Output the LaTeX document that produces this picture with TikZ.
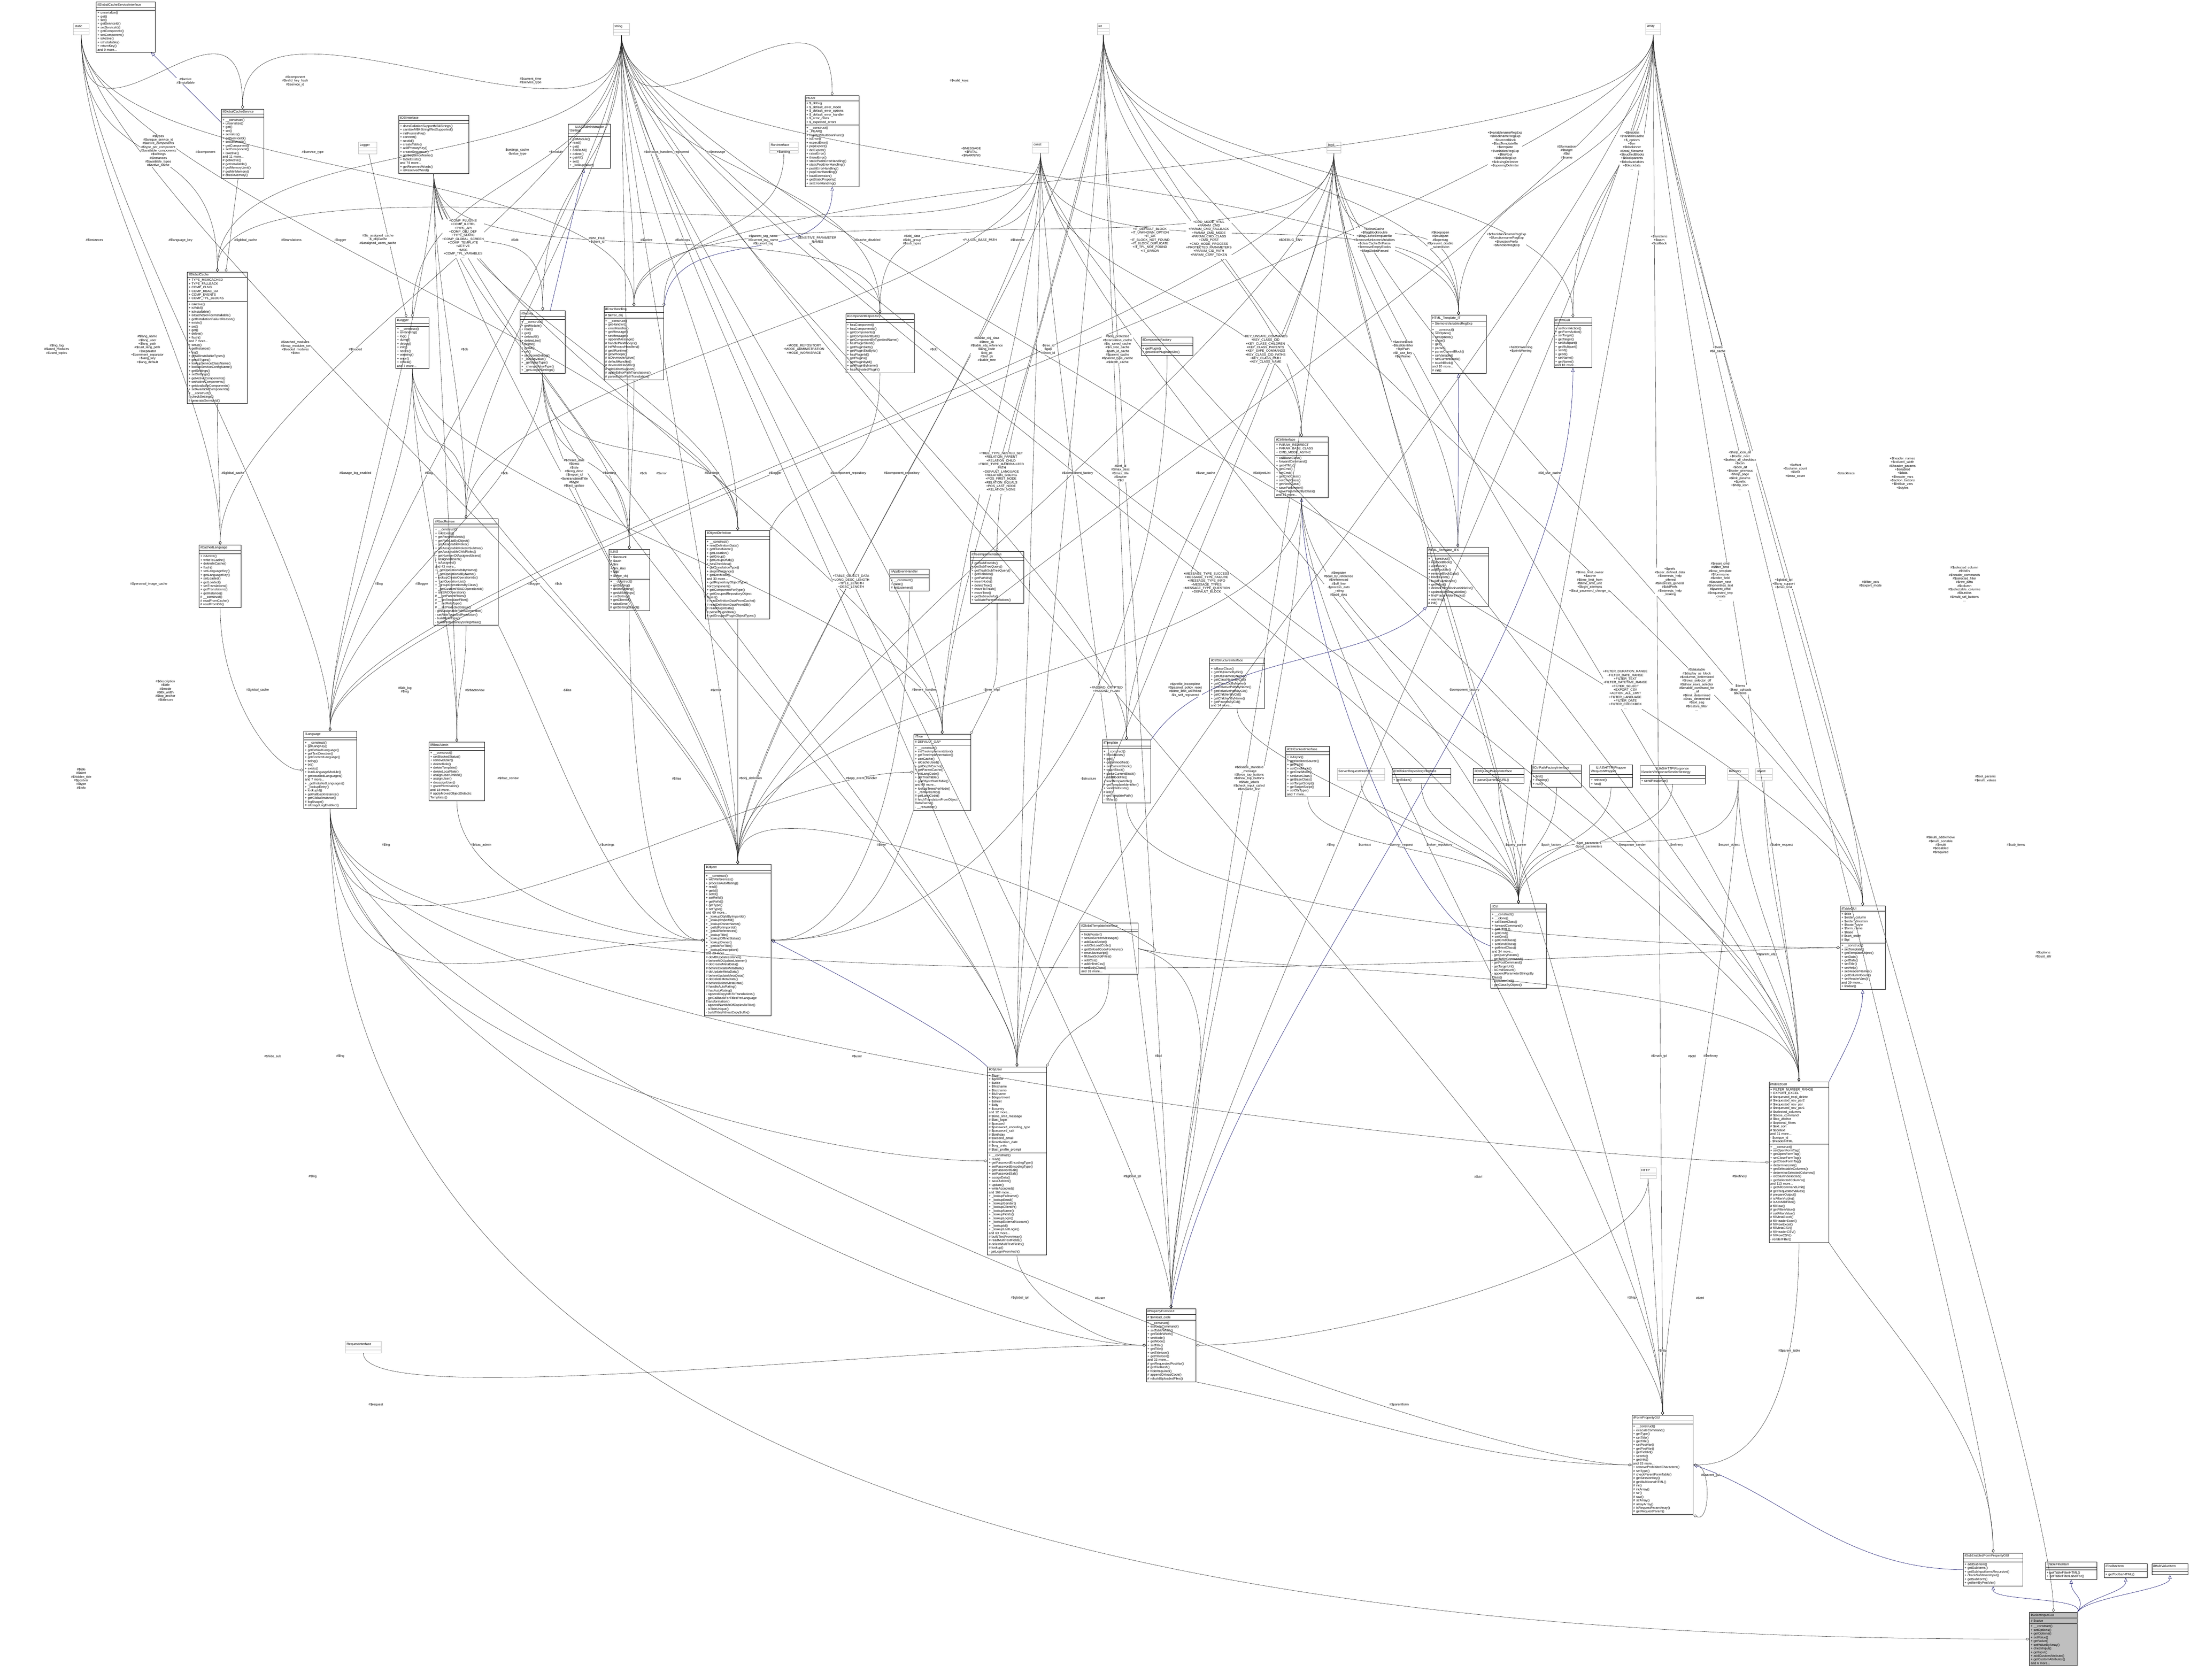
\documentclass[tikz,border=0pt]{standalone}
\usepackage{fontspec}
\setmainfont{Liberation Sans}
\usetikzlibrary{arrows.meta,positioning,shapes.multipart}
\definecolor{dxnavy}{RGB}{25,25,112}
\definecolor{dxgrey}{RGB}{191,191,191}
\definecolor{dxfocus}{RGB}{191,191,191}
\newcommand{\umlbox}[8][umlclass]{%
  \node[#1, text width=#5cm] (#2) at (#3,#4) {\centering #6\nodepart{two}#7\nodepart{three}#8};}
\tikzset{
  umlclass/.style={rectangle split, rectangle split parts=3, draw=black, line width=0.35pt,
    font=\fontsize{3.1}{3.55}\selectfont, align=left, inner sep=1.2pt, anchor=north west, fill=white},
  umltype/.style={umlclass, draw=dxgrey},
  umlfocus/.style={umlclass, fill=dxfocus},
  agg/.style={draw=black!85, line width=0.25pt, -{Diamond[open,length=1.3mm,width=0.9mm]}},
  inherit/.style={draw=dxnavy, line width=0.3pt, -{Triangle[open,length=1.3mm,width=1.1mm]}},
  lbl/.style={font=\fontsize{3.1}{3.5}\selectfont, align=center, inner sep=0pt, fill=white}
}
\begin{document}
\begin{tikzpicture}
\useasboundingbox (0,0) rectangle (73.84,-56.64);
% type boxes
\umlbox[umltype]{static}{2.47}{-0.79}{0.44}{static}{\mbox{}}{\mbox{}}
\umlbox[umltype]{string}{20.67}{-0.79}{0.47}{string}{\mbox{}}{\mbox{}}
\umlbox[umltype]{int}{36.99}{-0.79}{0.32}{int}{\mbox{}}{\mbox{}}
\umlbox[umltype]{array}{55.49}{-0.79}{0.41}{array}{\mbox{}}{\mbox{}}
\umlbox[umltype]{const}{34.80}{-4.79}{0.47}{const}{\mbox{}}{\mbox{}}
\umlbox[umltype]{bool}{44.73}{-4.79}{0.39}{bool}{\mbox{}}{\mbox{}}
\umlbox[umltype]{Logger}{12.08}{-4.79}{0.53}{Logger}{\mbox{}}{\mbox{}}
\umlbox[umltype]{RunInterface}{25.94}{-4.79}{0.88}{RunInterface}{\mbox{}}{\mbox{}}
\umlbox[umltype]{ServerRequestInterface}{45.08}{-25.91}{1.51}{ServerRequestInterface}{\mbox{}}{\mbox{}}
\umlbox[umltype]{Refinery}{58.25}{-25.91}{0.61}{Refinery}{\mbox{}}{\mbox{}}
\umlbox[umltype]{object}{59.19}{-25.91}{0.48}{object}{\mbox{}}{\mbox{}}
\umlbox[umltype]{HTTP}{55.29}{-39.37}{0.46}{HTTP}{\mbox{}}{\mbox{}}
\umlbox[umltype]{RequestInterface}{11.64}{-45.22}{1.12}{RequestInterface}{\mbox{}}{\mbox{}}
% classes
\umlbox{GCSInterface}{3.24}{-0.06}{1.90}{ilGlobalCacheServiceInterface}{\mbox{}}{+ unserialize()\\+ get()\\+ set()\\+ getServiceId()\\+ setServiceId()\\+ getComponent()\\+ setComponent()\\+ isActive()\\+ isInstallable()\\+ returnKey()\\and 9 more...}
\umlbox{GCService}{7.46}{-3.67}{1.34}{ilGlobalCacheService}{\mbox{}}{+ \_\_construct()\\+ unserialize()\\+ get()\\+ set()\\+ serialize()\\+ getServiceId()\\+ setServiceId()\\+ getComponent()\\+ setComponent()\\+ isActive()\\and 11 more...\\\# getActive()\\\# getInstallable()\\\# getMemoryLimit()\\\# getMinMemory()\\\# checkMemory()}
\umlbox{DBInterface}{13.44}{-3.88}{2.27}{ilDBInterface}{\mbox{}}{+ doesCollationSupportMB4Strings()\\+ sanitizeMB4StringIfNotSupported()\\+ initFromIniFile()\\+ connect()\\+ nextId()\\+ createTable()\\+ addPrimaryKey()\\+ createSequence()\\+ getSequenceName()\\+ tableExists()\\and 74 more...\\+ getReservedWords()\\+ isReservedWord()}
\umlbox{AdmSetting}{19.16}{-4.18}{1.33}{ILIAS\textbackslash Administration\\\textbackslash Setting}{\mbox{}}{+ getModule()\\+ read()\\+ get()\\+ deleteAll()\\+ delete()\\+ getAll()\\+ set()\\+ \_lookupValue()}
\umlbox{PEAR}{27.14}{-3.22}{1.74}{PEAR}{+ \$\_debug\\+ \$\_default\_error\_mode\\+ \$\_default\_error\_options\\+ \$\_default\_error\_handler\\+ \$\_error\_class\\+ \$\_expected\_errors}{+ \_\_construct()\\+ \_PEAR()\\+ registerShutdownFunc()\\+ isError()\\+ expectError()\\+ popExpect()\\+ delExpect()\\+ raiseError()\\+ throwError()\\+ staticPushErrorHandling()\\+ staticPopErrorHandling()\\+ pushErrorHandling()\\+ popErrorHandling()\\+ loadExtension()\\+ getStaticProperty()\\+ setErrorHandling()}
\umlbox{GlobalCache}{6.31}{-9.17}{1.94}{ilGlobalCache}{+ TYPE\_MEMCACHED\\+ TYPE\_FALLBACK\\+ COMP\_CLNG\\+ COMP\_RBAC\_UA\\+ COMP\_EVENTS\\+ COMP\_TPL\_BLOCKS}{+ isActive()\\+ isValid()\\+ isInstallable()\\+ isCacheServiceInstallable()\\+ getInstallationFailureReason()\\+ exists()\\+ set()\\+ get()\\+ delete()\\+ flush()\\and 7 more...\\+ setup()\\+ getInstance()\\+ log()\\+ getAllInstallableTypes()\\+ getAllTypes()\\+ lookupServiceClassName()\\+ lookupServiceConfigName()\\+ getSettings()\\+ setSettings()\\+ getActiveComponents()\\+ setActiveComponents()\\+ getAvailableComponents()\\+ setAvailableComponents()\\\# \_\_construct()\\\# checkSettings()\\\# generateServiceId()}
\umlbox{ilLogger}{13.34}{-10.70}{1.03}{ilLogger}{\mbox{}}{+ \_\_construct()\\+ isHandling()\\+ log()\\+ dump()\\+ debug()\\+ info()\\+ notice()\\+ warning()\\+ error()\\+ critical()\\and 7 more...}
\umlbox{ilSetting}{17.53}{-10.47}{1.44}{ilSetting}{\mbox{}}{+ \_\_construct()\\+ getModule()\\+ read()\\+ get()\\+ deleteAll()\\+ deleteLike()\\+ delete()\\+ getAll()\\+ set()\\+ setScormDebug()\\+ \_lookupValue()\\+ \_getValueType()\\+ \_changeValueType()\\+ \_getLongerSettings()}
\umlbox{ErrorHandling}{20.36}{-10.33}{1.93}{ilErrorHandling}{\# \$error\_obj}{+ \_\_construct()\\+ getHandler()\\+ errorHandler()\\+ getMessage()\\+ setMessage()\\+ appendMessage()\\\# handlePreWhoops()\\\# initWhoopsHandlers()\\\# getIlRuntime()\\\# getWhoops()\\\# isDevmodeActive()\\\# defaultHandler()\\\# devmodeHandler()\\\# addEditorSupport()\\\# applyEditorPathTranslations()\\\# parseEditorPathTranslation()}
\umlbox{ComponentRepository}{28.51}{-10.57}{2.22}{ilComponentRepository}{\mbox{}}{+ hasComponent()\\+ hasComponentId()\\+ getComponents()\\+ getComponentById()\\+ getComponentByTypeAndName()\\+ hasPluginSlotId()\\+ getPluginSlots()\\+ getPluginSlotById()\\+ hasPluginId()\\+ getPlugins()\\+ getPluginById()\\+ getPluginByName()\\+ hasActivatedPlugin()}
\umlbox{ComponentFactory}{38.47}{-11.36}{1.66}{ilComponentFactory}{\mbox{}}{+ getPlugin()\\+ getActivePluginsInSlot()}
\umlbox{CtrlInterface}{42.98}{-14.73}{1.71}{ilCtrlInterface}{+ PARAM\_REDIRECT\\+ PARAM\_BASE\_CLASS\\+ CMD\_MODE\_ASYNC}{+ callBaseClass()\\+ forwardCommand()\\+ getHTML()\\+ getCmd()\\+ setCmd()\\+ getCmdClass()\\+ setCmdClass()\\+ getNextClass()\\+ saveParameter()\\+ saveParameterByClass()\\and 32 more...}
\umlbox{TemplateIT}{48.24}{-10.62}{1.78}{HTML\_Template\_IT}{+ \$removeVariablesRegExp}{+ \_\_construct()\\+ setOption()\\+ setOptions()\\+ show()\\+ get()\\+ parse()\\+ parseCurrentBlock()\\+ setVariable()\\+ setCurrentBlock()\\+ touchBlock()\\and 10 more...\\\# init()}
\umlbox{FormGUI}{52.39}{-10.70}{1.19}{ilFormGUI}{\mbox{}}{+ setFormAction()\\+ getFormAction()\\+ setTarget()\\+ getTarget()\\+ setMultipart()\\+ getMultipart()\\+ setId()\\+ getId()\\+ setName()\\+ getName()\\and 10 more...}
\umlbox{GlobalCachedLanguage}{6.71}{-18.37}{1.33}{ilCachedLanguage}{\mbox{}}{+ isActive()\\+ writeToCache()\\+ deleteInCache()\\+ flush()\\+ setLanguageKey()\\+ getLanguageKey()\\+ setLoaded()\\+ getLoaded()\\+ setTranslations()\\+ getTranslations()\\+ getInstance()\\\# \_\_construct()\\\# readFromCache()\\\# readFromDB()}
\umlbox{RbacReview}{14.62}{-17.49}{2.09}{ilRbacReview}{\mbox{}}{+ \_\_construct()\\+ roleExists()\\+ getParentRoleIds()\\+ getRoleListByObject()\\+ getAssignableRoles()\\+ getAssignableRolesInSubtree()\\+ getAssignableChildRoles()\\+ getNumberOfAssignedUsers()\\+ assignedUsers()\\+ isAssigned()\\and 43 more...\\+ \_getOperationIdsByName()\\+ \_getOperationIdByName()\\+ lookupCreateOperationIds()\\+ \_getOperationList()\\+ \_groupOperationsByClass()\\+ \_getCustomRBACOperationId()\\+ isRBACOperation()\\\# \_\_getParentRoles()\\\# \_\_setTemplateFilter()\\\# \_\_setRoleType()\\\# \_\_setProtectedStatus()\\- getAssignableRolesGenerator()\\- setRoleTypeAndProtection()\\- buildRoleType()\\- buildProtectionByStringValue()}
\umlbox{ILIAS}{20.53}{-18.52}{1.28}{ILIAS}{+ \$account\\+ \$auth\\+ \$ini\\+ \$ini\_ilias\\+ \$db\\+ \$error\_obj}{+ \_\_construct()\\+ getSetting()\\+ deleteSetting()\\+ getAllSettings()\\+ setSetting()\\+ getClientId()\\+ raiseError()\\\# getSettingObject()}
\umlbox{ObjDefinition}{23.78}{-17.88}{2.09}{ilObjectDefinition}{\mbox{}}{+ \_\_construct()\\+ readDefinitionData()\\+ getClassName()\\+ getLocation()\\+ getGroup()\\+ getGroupOfObj()\\+ hasCheckbox()\\+ getTranslationType()\\+ stopInheritance()\\+ getDevMode()\\and 30 more...\\+ getRepositoryObjectTypes\\ForComponent()\\+ getComponentForType()\\+ getGroupedRepositoryObject\\Types()\\\# readDefinitionDataFromCache()\\\# readDefinitionDataFromDB()\\\# readPluginData()\\\# parsePluginData()\\\# getGroupedPluginObjectTypes()}
\umlbox{TreeImpl}{32.71}{-18.60}{1.72}{ilTreeImplementation}{\mbox{}}{+ getSubTreeIds()\\+ getSubTreeQuery()\\+ getTrashSubTreeQuery()\\+ getRelation()\\+ getPathIds()\\+ insertNode()\\+ deleteTree()\\+ moveToTrash()\\+ moveTree()\\+ getSubtreeInfo()\\+ validateParentRelations()}
\umlbox{AppEventHandler}{29.99}{-19.18}{1.25}{ilAppEventHandler}{\mbox{}}{+ \_\_construct()\\+ raise()\\\# initListeners()}
\umlbox{TemplateITX}{48.11}{-18.45}{1.99}{HTML\_Template\_ITX}{\mbox{}}{+ \_\_construct()\\+ replaceBlock()\\+ addBlock()\\+ addBlockfile()\\+ removeBlockData()\\+ blockExists()\\+ buildFunctionlist()\\+ getValue()\\+ deleteFromBlockvariablelist()\\+ updateBlockvariablelist()\\+ findPlaceholderBlocks()\\+ warning()\\\# init()}
\umlbox{CtrlStructure}{40.78}{-22.18}{1.77}{ilCtrlStructureInterface}{\mbox{}}{+ isBaseClass()\\+ getObjNameByCid()\\+ getObjNameByName()\\+ getClassNameByCid()\\+ getClassCidByName()\\+ getRelativePathByName()\\+ getRelativePathByCid()\\+ getChildrenByCid()\\+ getChildrenByName()\\+ getParentsByCid()\\and 14 more...}
\umlbox{Language}{10.23}{-24.65}{1.70}{ilLanguage}{\mbox{}}{+ \_\_construct()\\+ getLangKey()\\+ getDefaultLanguage()\\+ getTextDirection()\\+ getContentLanguage()\\+ txtlng()\\+ txt()\\+ exists()\\+ loadLanguageModule()\\+ getInstalledLanguages()\\and 7 more...\\+ \_getInstalledLanguages()\\+ \_lookupEntry()\\+ lookupId()\\+ getFallbackInstance()\\+ getGlobalInstance()\\\# logUsage()\\\# isUsageLogEnabled()}
\umlbox{RbacAdmin}{14.46}{-25.02}{1.79}{ilRbacAdmin}{\mbox{}}{+ \_\_construct()\\+ setBlockedStatus()\\+ removeUser()\\+ deleteRole()\\+ deleteTemplate()\\+ deleteLocalRole()\\+ assignUserLimited()\\+ assignUser()\\+ deassignUser()\\+ grantPermission()\\and 18 more...\\\# applyMovedObjectDidactic\\Templates()}
\umlbox{Tree}{30.80}{-24.75}{1.84}{ilTree}{\# DEFAULT\_GAP}{+ \_\_construct()\\+ initTreeImplementation()\\+ getTreeImplementation()\\+ useCache()\\+ isCacheUsed()\\+ getDepthCache()\\+ getParentCache()\\+ initLangCode()\\+ getTreeTable()\\+ getObjectDataTable()\\and 69 more...\\+ lookupTreesForNode()\\+ \_removeEntry()\\\# getLangCode()\\\# fetchTranslationFromObject\\DataCache()\\- \_\_renumber()}
\umlbox{Template}{37.16}{-24.95}{1.55}{ilTemplate}{\mbox{}}{+ \_\_construct()\\+ blockExists()\\+ get()\\+ getUnmodified()\\+ setCurrentBlock()\\+ touchBlock()\\+ parseCurrentBlock()\\+ addBlockFile()\\+ loadTemplatefile()\\+ getTemplateIdentifier()\\+ variableExists()\\\# init()\\\# getTemplatePath()\\- fillVars()}
\umlbox{CtrlContext}{43.35}{-25.17}{1.39}{ilCtrlContextInterface}{\mbox{}}{+ isAsync()\\+ getRedirectSource()\\+ getPath()\\+ setCmdMode()\\+ getCmdMode()\\+ setBaseClass()\\+ getBaseClass()\\+ setTargetScript()\\+ getTargetScript()\\+ setObjType()\\and 7 more...}
\umlbox{CtrlToken}{46.93}{-25.91}{1.89}{ilCtrlTokenRepositoryInterface}{\mbox{}}{+ getToken()}
\umlbox{CtrlQueryParser}{49.67}{-25.91}{1.62}{ilCtrlQueryParserInterface}{\mbox{}}{+ parseQueriesOfURL()}
\umlbox{CtrlPathFactory}{51.63}{-25.79}{1.60}{ilCtrlPathFactoryInterface}{\mbox{}}{+ find()\\+ existing()\\+ null()}
\umlbox{RequestWrapper}{53.59}{-25.79}{1.36}{ILIAS\textbackslash HTTP\textbackslash Wrapper\\\textbackslash RequestWrapper}{\mbox{}}{+ retrieve()\\+ has()}
\umlbox{ResponseSender}{55.29}{-25.82}{2.11}{ILIAS\textbackslash HTTP\textbackslash Response\\\textbackslash Sender\textbackslash ResponseSenderStrategy}{\mbox{}}{+ sendResponse()}
\umlbox{Object}{23.75}{-29.14}{2.15}{ilObject}{\mbox{}}{+ \_\_construct()\\+ withReferences()\\+ processAutoRating()\\+ read()\\+ getId()\\+ setId()\\+ setRefId()\\+ getRefId()\\+ getType()\\+ setType()\\and 69 more...\\+ \_lookupObjIdByImportId()\\+ \_lookupImportId()\\+ \_lookupOwnerName()\\+ \_getIdForImportId()\\+ \_getAllReferences()\\+ \_lookupTitle()\\+ \_lookupOfflineStatus()\\+ \_lookupOwner()\\+ \_getIdsForTitle()\\+ \_lookupDescription()\\and 29 more...\\\# doMDUpdateListener()\\\# beforeMDUpdateListener()\\\# doCreateMetaData()\\\# beforeCreateMetaData()\\\# doUpdateMetaData()\\\# beforeUpdateMetaData()\\\# doDeleteMetaData()\\\# beforeDeleteMetaData()\\\# handleAutoRating()\\\# hasAutoRating()\\- appendCopyInfoToTranslations()\\- getCallbackForTitlesPerLanguage\\Transformation()\\- appendNumberOfCopiesToTitle()\\- isTitleUnique()\\- buildTitleWithoutCopySuffix()}
\umlbox{GlobalTplInterface}{36.41}{-31.12}{1.87}{ilGlobalTemplateInterface}{\mbox{}}{+ hideFooter()\\+ setOnScreenMessage()\\+ addJavaScript()\\+ addOnLoadCode()\\+ getOnloadCodeForAsync()\\+ resetJavascript()\\+ fillJavaScriptFiles()\\+ addCss()\\+ addInlineCss()\\+ setBodyClass()\\and 33 more...}
\umlbox{Ctrl}{50.25}{-30.47}{1.80}{ilCtrl}{\mbox{}}{+ \_\_construct()\\+ \_\_clone()\\+ callBaseClass()\\+ forwardCommand()\\+ getHTML()\\+ getCmd()\\+ setCmd()\\+ getCmdClass()\\+ setCmdClass()\\+ getNextClass()\\and 34 more...\\- getQueryParam()\\- getTableCommand()\\- getPostCommand()\\- getTargetUrl()\\- isCmdSecure()\\- appendParameterStringsBy\\Class()\\- populateCall()\\- getClassByObject()}
\umlbox{TableGUI}{62.04}{-30.54}{1.43}{ilTableGUI}{+ \$title\\+ \$order\_column\\+ \$order\_direction\\+ \$footer\_style\\+ \$form\_name\\+ \$base\\\# \$sort\_order\\\# \$tpl}{+ \_\_construct()\\+ setTemplate()\\+ getTemplateObject()\\+ setData()\\+ getData()\\+ setTitle()\\+ setHelp()\\+ setHeaderNames()\\+ getColumnCount()\\+ setHeaderVars()\\and 29 more...\\+ linkbar()}
\umlbox{ObjUser}{33.29}{-35.97}{1.90}{ilObjUser}{+ \$login\\+ \$gender\\+ \$utitle\\+ \$firstname\\+ \$lastname\\+ \$fullname\\+ \$department\\+ \$street\\+ \$city\\+ \$country\\and 12 more...\\\# \$time\_limit\_message\\\# \$last\_login\\\# \$passwd\\\# \$password\_encoding\_type\\\# \$password\_salt\\\# \$birthday\\\# \$second\_email\\\# \$inactivation\_date\\\# \$org\_units\\\# \$last\_profile\_prompt}{+ \_\_construct()\\+ read()\\+ getPasswordEncodingType()\\+ setPasswordEncodingType()\\+ getPasswordSalt()\\+ setPasswordSalt()\\+ assignData()\\+ saveAsNew()\\+ update()\\+ writeAccepted()\\and 168 more...\\+ \_lookupFullname()\\+ \_lookupEmail()\\+ \_lookupGender()\\+ \_lookupClientIP()\\+ \_lookupName()\\+ \_lookupFields()\\+ \_lookupLogin()\\+ \_lookupExternalAccount()\\+ \_lookupId()\\+ \_lookupLastLogin()\\and 63 more...\\\# buildTextFromArray()\\\# readMultiTextFields()\\\# deleteMultiTextFields()\\\# lookup()\\- getLoginFromAuth()}
\umlbox{Table2GUI}{59.64}{-36.47}{1.93}{ilTable2GUI}{+ FILTER\_NUMBER\_RANGE\\+ EXPORT\_EXCEL\\\# \$requested\_tmpl\_delete\\\# \$requested\_nav\_par2\\\# \$requested\_nav\_par\\\# \$requested\_nav\_par1\\\# \$selected\_columns\\\# \$close\_command\\\# \$top\_anchor\\\# \$optional\_filters\\\# \$ext\_sort\\\# \$context\\and 31 more...\\- \$unique\_id\\- \$headerHTML}{+ \_\_construct()\\+ setOpenFormTag()\\+ getOpenFormTag()\\+ setCloseFormTag()\\+ getCloseFormTag()\\+ determineLimit()\\+ getSelectableColumns()\\+ determineSelectedColumns()\\+ isColumnSelected()\\+ getSelectedColumns()\\and 113 more...\\+ getAllCommandLimit()\\\# getRequestedValues()\\\# prepareOutput()\\\# isFilterVisible()\\\# isAdvMDFilter()\\\# fillRow()\\\# getFilterValue()\\\# setFilterValue()\\\# fillMetaExcel()\\\# fillHeaderExcel()\\\# fillRowExcel()\\\# fillMetaCSV()\\\# fillHeaderCSV()\\\# fillRowCSV()\\- renderFilter()}
\umlbox{PropertyFormGUI}{38.64}{-44.12}{1.59}{ilPropertyFormGUI}{\# \$onload\_code}{+ \_\_construct()\\+ executeCommand()\\+ setTableWidth()\\+ getTableWidth()\\+ setMode()\\+ getMode()\\+ setTitle()\\+ getTitle()\\+ setTitleIcon()\\+ getTitleIcon()\\and 33 more...\\\# getRequestedPostVar()\\\# getFileHash()\\\# hideRequired()\\\# appendOnloadCode()\\\# rebuildUploadedFiles()}
\umlbox{FormPropertyGUI}{55.02}{-47.71}{1.98}{ilFormPropertyGUI}{\mbox{}}{+ \_\_construct()\\+ executeCommand()\\+ getType()\\+ setTitle()\\+ getTitle()\\+ setPostVar()\\+ getPostVar()\\+ getFieldId()\\+ setInfo()\\+ getInfo()\\and 33 more...\\+ removeProhibitedCharacters()\\\# setType()\\\# checkParentFormTable()\\\# getSessionKey()\\\# getMultiIconsHTML()\\\# int()\\\# intArray()\\\# str()\\\# raw()\\\# strArray()\\\# arrayArray()\\\# isRequestParamArray()\\\# getRequestParam()}
\umlbox{SubEnabledGUI}{66.19}{-52.36}{1.93}{ilSubEnabledFormPropertyGUI}{\mbox{}}{+ addSubItem()\\+ getSubItems()\\+ getSubInputItemsRecursive()\\+ checkSubItemsInput()\\+ getSubForm()\\+ getItemByPostVar()}
\umlbox{TableFilterItem}{68.96}{-52.66}{1.65}{ilTableFilterItem}{\mbox{}}{+ getTableFilterHTML()\\+ getTableFilterLabelFor()}
\umlbox{ToolbarItem}{70.94}{-52.72}{1.37}{ilToolbarItem}{\mbox{}}{+ getToolbarHTML()}
\umlbox{MultiValueItem}{72.55}{-52.72}{1.13}{ilMultiValueItem}{\mbox{}}{\mbox{}}
\umlbox[umlfocus]{SelectInputGUI}{68.42}{-54.36}{1.53}{ilSelectInputGUI}{\# \$value}{+ \_\_construct()\\+ setOptions()\\+ getOptions()\\+ setValue()\\+ getValue()\\+ setValueByArray()\\+ checkInput()\\+ getInput()\\+ addCustomAttribute()\\+ getCustomAttributes()\\and 6 more...}
% inheritance
\draw[inherit] (GCService) -- (GCSInterface);
\draw[inherit] (ilSetting) -- (AdmSetting);
\draw[inherit] (ErrorHandling.north east) .. controls +(0.3,3) and +(0,-3) .. (PEAR.south);
\draw[inherit] (TemplateITX) -- (TemplateIT);
\draw[inherit] (Template.north east) .. controls +(2,3) and +(-2,-2) .. (TemplateITX.south west);
\draw[inherit] (Ctrl.west) .. controls +(-3,1) and +(0,-4) .. (CtrlInterface.south);
\draw[inherit] (Table2GUI.north east) .. controls +(0.5,1) and +(0,-1) .. (TableGUI.south);
\draw[inherit] (PropertyFormGUI.north) .. controls +(2,10) and +(0,-10) .. (FormGUI.south);
\draw[inherit] (ObjUser.north west) .. controls +(-1,1) and +(2,-1) .. (Object.east);
\draw[inherit] (SubEnabledGUI.west) .. controls +(-4,0) and +(3,-1) .. (FormPropertyGUI.east);
\foreach \p in {SubEnabledGUI, TableFilterItem, ToolbarItem, MultiValueItem}
  \draw[inherit] (SelectInputGUI.north east) .. controls +(0.3,0.5) and +(0,-0.5) .. (\p.south);
% usage from basic types
\foreach \c in {GCService, GlobalCache, ilLogger, ilSetting, ErrorHandling, GlobalCachedLanguage, Language, ObjDefinition, RbacReview, ILIAS, Tree, Object, ObjUser, ComponentRepository, Ctrl, TableGUI, Table2GUI, PropertyFormGUI, FormPropertyGUI, TemplateIT, Template, PEAR}
  \draw[agg] (string.south) .. controls +(0,-5) and +(0,5) .. (\c.north);
\foreach \c in {GCService, GlobalCache, Language, GlobalCachedLanguage, Object, ErrorHandling, ObjDefinition}
  \draw[agg] (static.south) .. controls +(0,-5) and +(0,5) .. (\c.north);
\foreach \c in {Tree, Object, ObjUser, CtrlInterface, Template, Table2GUI, FormGUI, TableGUI, TemplateIT, PropertyFormGUI, TreeImpl}
  \draw[agg] (int.south) .. controls +(0,-5) and +(0,5) .. (\c.north);
\foreach \c in {Object, Tree, CtrlInterface, GlobalCache, Table2GUI, RbacReview, TemplateIT, ObjUser, ComponentRepository, Ctrl, PropertyFormGUI}
  \draw[agg] (const.south) .. controls +(0,-5) and +(0,5) .. (\c.north);
\foreach \c in {TemplateIT, Template, ObjUser, Table2GUI, FormPropertyGUI, PropertyFormGUI, ErrorHandling, Ctrl, Object, TableGUI, TemplateITX, Language}
  \draw[agg] (bool.south) .. controls +(0,-5) and +(0,5) .. (\c.north);
\foreach \c in {TemplateIT, TemplateITX, FormGUI, TableGUI, Table2GUI, SelectInputGUI, FormPropertyGUI, PropertyFormGUI, Ctrl, ObjUser, ErrorHandling, Object, Language, SubEnabledGUI}
  \draw[agg] (array.south) .. controls +(0,-5) and +(0,5) .. (\c.north);
% usage between classes
\foreach \c in {ilSetting, Language, RbacReview, RbacAdmin, ObjDefinition, Tree, Object, ObjUser, ILIAS, ComponentRepository}
  \draw[agg] (DBInterface.south) .. controls +(0,-4) and +(0,4) .. (\c.north);
\draw[agg] (GCService) -- (GlobalCache);
\draw[agg] (GlobalCache.south) .. controls +(0,-2) and +(0,2) .. (GlobalCachedLanguage.north);
\draw[agg] (Logger) -- (ilLogger);
\foreach \c in {Language, RbacReview, RbacAdmin, Tree, Object}
  \draw[agg] (ilLogger.south) .. controls +(0,-4) and +(0,4) .. (\c.north);
\foreach \c in {Language, ILIAS, ObjDefinition, Object, ObjUser}
  \draw[agg] (ilSetting.south) .. controls +(0,-4) and +(0,4) .. (\c.north);
\draw[agg] (ErrorHandling.south) .. controls +(0,-2) and +(0,2) .. (ILIAS.north);
\draw[agg] (RunInterface.south) .. controls +(0,-3) and +(0,3) .. (ErrorHandling.north east);
\draw[agg] (RbacReview.south) .. controls +(0,-2) and +(0,2) .. (RbacAdmin.north);
\draw[agg] (RbacReview.south east) .. controls +(2,-4) and +(-3,0) .. (Object.west);
\draw[agg] (RbacAdmin.south) .. controls +(0,-3) and +(-3,0) .. (Object.west);
\draw[agg] (GlobalCachedLanguage.south) .. controls +(0,-3) and +(-1,0) .. (Language.west);
\foreach \c in {Object, Tree, PropertyFormGUI, FormPropertyGUI, Table2GUI, ObjUser, TableGUI}
  \draw[agg] (Language.south) .. controls +(0,-8) and +(-6,0) .. (\c.west);
\draw[agg] (ILIAS.south) .. controls +(0,-4) and +(-2,0) .. (Object.west);
\draw[agg] (ObjDefinition) -- (Object);
\draw[agg] (ComponentRepository.south) .. controls +(0,-4) and +(1,2) .. (ObjDefinition.north east);
\draw[agg] (ComponentFactory.south) .. controls +(0,-10) and +(8,0) .. (Object.east);
\draw[agg] (AppEventHandler.south) .. controls +(0,-6) and +(3,0) .. (Object.east);
\draw[agg] (TreeImpl.south) .. controls +(0,-3) and +(1,2) .. (Tree.north east);
\draw[agg] (Tree.south west) .. controls +(-1,-3) and +(3,0) .. (Object.east);
\draw[agg] (GlobalTplInterface.south) .. controls +(0,-2) and +(1,2) .. (ObjUser.north east);
\foreach \c in {PropertyFormGUI, Table2GUI, Object}
  \draw[agg] (GlobalTplInterface.east) .. controls +(4,-1) and +(0,4) .. (\c.north);
\foreach \c in {CtrlStructure, CtrlContext, ServerRequestInterface, CtrlToken, CtrlQueryParser, CtrlPathFactory, RequestWrapper, ResponseSender}
  \draw[agg] (\c.south) .. controls +(0,-2) and +(0,2) .. (Ctrl.north);
\foreach \c in {Ctrl, FormPropertyGUI, Table2GUI}
  \draw[agg] (Refinery.south) .. controls +(0,-4) and +(0,4) .. (\c.north);
\draw[agg] (object.south) .. controls +(0,-4) and +(0,4) .. (Table2GUI.north);
\draw[agg] (Template.south) .. controls +(0,-4) and +(-6,0) .. (TableGUI.west);
\foreach \c in {Object, PropertyFormGUI, FormPropertyGUI, Table2GUI}
  \draw[agg] (CtrlInterface.south) .. controls +(0,-6) and +(0,6) .. (\c.north);
\draw[agg] (ObjUser.south) .. controls +(0,-1) and +(-2,0) .. (PropertyFormGUI.west);
\draw[agg] (HTTP.south) -- (FormPropertyGUI.north);
\draw[agg] (HTTP.south) .. controls +(0,-3) and +(4,0) .. (PropertyFormGUI.east);
\draw[agg] (Table2GUI.south) .. controls +(0,-3) and +(3,0) .. (FormPropertyGUI.east);
\draw[agg] (PropertyFormGUI.south east) .. controls +(5,-1) and +(-5,0) .. (FormPropertyGUI.west);
\draw[agg] (FormPropertyGUI.east) .. controls +(0.6,0.2) and +(0.6,-0.3) .. (FormPropertyGUI.south east);
\draw[agg] (RequestInterface.south) .. controls +(0,-2) and +(-8,0) .. (PropertyFormGUI.west);
\draw[agg] (Language.south) .. controls +(0,-26) and +(-20,0) .. (SelectInputGUI.west);
\draw[agg] (Table2GUI.south east) .. controls +(2,-3) and +(0,4) .. (SubEnabledGUI.north);
% labels
\foreach \x/\y/\t in {
  626/273/{\#\$active\\\#\$installable}, 996/273/{\#\$component\\\#\$valid\_key\_hash\\\#\$service\_id},
  1790/273/{\#\$current\_time\\\#\$service\_type}, 3236/273/{\#\$valid\_keys},
  534/509/{\#\$types\\\#\$unique\_service\_id\\\#\$active\_components\\\#\$type\_per\_component\\\#\$available\_components\\\#\$settings\\\#\$instances\\\#\$available\_types\\\#\$active\_cache},
  693/513/{\#\$component}, 1055/513/{\#\$service\_type}, 1745/513/{\$settings\_cache\\-\$value\_type},
  1876/513/{+\$module}, 2248/513/{\#\$whoops\_handlers\_registered}, 2418/513/{\#\$message},
  2643/513/{+\$setting}, 3276/513/{+\$MESSAGE\\+\$FATAL\\+\$WARNING},
  5077/509/{+\$variablenameRegExp\\+\$blocknameRegExp\\+\$currentBlock\\+\$lastTemplatefile\\+\$template\\+\$variablesRegExp\\+\$fileRoot\\+\$blockRegExp\\+\$closingDelimiter\\+\$openingDelimiter\\...},
  5285/513/{\#\$formaction\\\#\$target\\\#\$id\\\#\$name},
  5505/509/{+\$blocklist\\+\$variableCache\\+\$\_options\\+\$err\\+\$blockinner\\\#\$real\_filename\\+\$touchedBlocks\\+\$blockparents\\+\$blockvariables\\+\$blockdata\\...},
  319/810/{\#\$instances}, 609/810/{\#\$language\_key}, 829/810/{\#\$global\_cache}, 983/810/{\#\$translations},
  1148/810/{-\$logger}, 1275/808/{\#\$is\_assigned\_cache\\-\$\_objCache\\\#\$assigned\_users\_cache},
  1562/806/{+COMP\_PLUGINS\\+COMP\_ILCTRL\\+TYPE\_API\\+COMP\_OBJ\_DEF\\+TYPE\_STATIC\\+COMP\_GLOBAL\_SCREEN\\+COMP\_TEMPLATE\\+ACTIVE\\+MSG\\+COMP\_TPL\_VARIABLES\\...},
  1737/810/{\#\$db}, 2013/810/{+\$INI\_FILE\\+\$client\_id}, 2181/810/{\#\$active}, 2303/810/{\#\$whoops},
  2575/810/{\#\$parent\_tag\_name\\\#\$current\_tag\_name\\\#\$current\_tag}, 2755/810/{-SENSITIVE\_PARAMETER\\\_NAMES},
  2926/810/{\#\$cache\_disabled}, 3077/810/{\#\$obj\_data\\\#\$obj\_group\\\#\$sub\_types}, 3305/810/{+PLUGIN\_BASE\_PATH},
  3433/810/{\#\$listener},
  3879/810/{+IT\_DEFAULT\_BLOCK\\+IT\_UNKNOWN\_OPTION\\+IT\_OK\\+IT\_BLOCK\_NOT\_FOUND\\+IT\_BLOCK\_DUPLICATE\\+IT\_TPL\_NOT\_FOUND\\+IT\_ERROR},
  4078/810/{+CMD\_MODE\_HTML\\+PARAM\_CMD\\+PARAM\_CMD\_FALLBACK\\+PARAM\_CMD\_MODE\\+PARAM\_CMD\_CLASS\\+CMD\_POST\\+CMD\_MODE\_PROCESS\\+PROTECTED\_PARAMETERS\\+PARAM\_CID\_PATH\\+PARAM\_CSRF\_TOKEN\\...},
  4354/810/{\#\$DEBUG\_ENV},
  4636/810/{+\$clearCache\\+\$flagBlocktrouble\\+\$flagCacheTemplatefile\\+\$removeUnknownVariables\\+\$clearCacheOnParse\\+\$removeEmptyBlocks\\+\$flagGlobalParsed},
  4859/810/{\#\$keepopen\\\#\$multipart\\\#\$opentag\\\#\$prevent\_double\\\_submission},
  5082/810/{+\$checkblocknameRegExp\\+\$functionnameRegExp\\+\$functionPrefix\\+\$functionRegExp},
  5597/810/{+\$functions\\+\$warn\\+\$callback},
  191/1179/{\#\$lng\_log\\\#\$used\_modules\\\#\$used\_topics},
  497/1179/{\#\$lang\_name\\+\$lang\_user\\+\$lang\_path\\\#\$cust\_lang\_path\\+\$separator\\+\$comment\_separator\\+\$lang\_key\\+\$lang\_default},
  996/1173/{\#\$cached\_modules\\\#\$map\_modules\_txt\\+\$loaded\_modules\\+\$text}, 1199/1179/{\#\$loaded}, 1567/1179/{\#\$db},
  2712/1179/{+MODE\_REPOSITORY\\+MODE\_ADMINISTRATION\\+MODE\_WORKSPACE}, 3150/1179/{\#\$db},
  3329/1179/{\#\$table\_obj\_data\\\#\$tree\_pk\\\#\$table\_obj\_reference\\\$lang\_code\\\$obj\_pk\\\#\$ref\_pk\\\#\$table\_tree},
  3536/1179/{-\$tree\_id\\\$gap\\\#\$root\_id},
  3770/1179/{\#\$obj\_protected\\\#\$translation\_cache\\\#\$is\_saved\_cache\\\#\$in\_tree\_cache\\-\$path\_id\_cache\\\#\$parent\_cache\\\#\$parent\_type\_cache\\\#\$depth\_cache},
  4269/1179/{+KEY\_UNSAFE\_COMMANDS\\+KEY\_CLASS\_CID\\+KEY\_CLASS\_CHILDREN\\+KEY\_CLASS\_PARENTS\\+KEY\_SAFE\_COMMANDS\\+KEY\_CLASS\_CID\_PATHS\\+KEY\_CLASS\_PATH\\+KEY\_CLASS\_NAME},
  4732/1179/{+\$activeBlock\\+\$lastIdentifier\\+\$tplPath\\\#\$il\_use\_key\\\#\$tplName},
  5130/1179/{+haltOnWarning\\+\$printWarning}, 5795/1179/{+\$vars\\\#\$il\_cache},
  786/1597/{\#\$global\_cache}, 1199/1597/{\#\$usage\_log\_enabled}, 1447/1597/{\#\$log}, 1702/1597/{\#\$db},
  1937/1597/{\#\$create\_date\\\#\$desc\\\#\$title\\\#\$long\_desc\\\#\$import\_id\\+\$untranslatedTitle\\\#\$type\\\#\$last\_update},
  2056/1597/{\#\$setting}, 2171/1597/{\#\$db}, 2232/1597/{\#\$error}, 2402/1597/{\#\$settings},
  2615/1597/{\#\$logger}, 2862/1597/{\#\$component\_repository}, 3042/1597/{\#\$component\_repository},
  3377/1597/{+TREE\_TYPE\_NESTED\_SET\\+RELATION\_PARENT\\+RELATION\_CHILD\\+TREE\_TYPE\_MATERIALIZED\\\_PATH\\+DEFAULT\_LANGUAGE\\+RELATION\_SIBLING\\+POS\_FIRST\_NODE\\+RELATION\_EQUALS\\+POS\_LAST\_NODE\\+RELATION\_NONE\\...},
  3635/1597/{\#\$component\_factory}, 3780/1597/{\#\$ref\_id\\\#\$max\_desc\\\#\$max\_title\\\#\$owner\\\#\$id},
  4067/1597/{\#\$use\_cache}, 4257/1597/{\#\$objectList}, 5228/1597/{\#\$tl\_use\_cache},
  5869/1588/{+\$help\_icon\_alt\\+\$footer\_next\\+\$select\_all\_checkbox\\+\$icon\\+\$icon\_alt\\+\$footer\_previous\\+\$help\_page\\\#\$link\_params\\+\$prefix\\+\$help\_icon\\...},
  6056/1588/{+\$offset\\+\$column\_count\\+\$limit\\+\$max\_count}, 6227/1597/{-\$stacktrace},
  6418/1597/{+\$header\_names\\+\$column\_width\\\#\$header\_params\\+\$enabled\\+\$data\\+\$header\_vars\\+\$action\_buttons\\+\$linkbar\_vars\\+\$styles},
  502/1970/{\#\$personal\_image\_cache}, 1278/1970/{\#\$log}, 1423/1970/{\#\$logger}, 1801/1970/{\#\$logger}, 1884/1970/{\#\$db},
  2871/1963/{+TABLE\_OBJECT\_DATA\\+LONG\_DESC\_LENGTH\\+TITLE\_LENGTH\\+DESC\_LENGTH},
  4070/1967/{+MESSAGE\_TYPE\_SUCCESS\\+MESSAGE\_TYPE\_FAILURE\\+MESSAGE\_TYPE\_INFO\\+MESSAGE\_TYPES\\+MESSAGE\_TYPE\_QUESTION\\+DEFAULT\_BLOCK},
  4516/1970/{\#\$register\\\#\$call\_by\_reference\\\#\$referenced\\\#\$off\_line\\-\$process\_auto\\\_rating\\\#\$add\_dots},
  5363/1963/{\#\$time\_limit\_owner\\+\$active\\\#\$time\_limit\_from\\\#\$time\_limit\_unit\\+\$login\_attempts\\+\$last\_password\_change\_ts},
  5633/1963/{+\$prefs\\+\$user\_defined\_data\\\#\$interests\_help\\\_offered\\\#\$interests\_general\\\#\$oldPrefs\\\#\$interests\_help\\\_looking},
  5803/1963/{\#\$reset\_cmd\\\#\$filter\_cmd\\\#\$row\_template\\\#\$formname\\\#\$order\_field\\\#\$custom\_next\\\#\$nonentries\_text\\\#\$parent\_cmd\\\#\$requested\_tmp\\\_create\\...},
  6017/1970/{+\$global\_tpl\\+\$lang\_support\\+\$max\_limit}, 6310/1970/{\#\$filter\_cols\\\#\$export\_mode},
  6627/1970/{\#\$selected\_column\\\#\$filters\\\#\$header\_commands\\\#\$selected\_filter\\\#\$row\_data\\\#\$column\\\#\$selectable\_columns\\\#\$buttons\\\#\$multi\_sel\_buttons\\...},
  558/2330/{\#\$description\\\#\$title\\\#\$mode\\\#\$tbl\_width\\\#\$top\_anchor\\\#\$titleicon},
  869/2328/{\#\$global\_cache}, 1366/2328/{\#\$db\_log\\\#\$log}, 1602/2328/{\#\$rbacreview}, 1913/2328/{-\$ilias}, 2415/2328/{\#\$error},
  3117/2328/{\#\$event\_handler}, 3345/2328/{-\$tree\_impl}, 3732/2327/{+PASSWD\_CRYPTED\\+PASSWD\_PLAIN},
  3998/2327/{\#\$profile\_incomplete\\\#\$passwd\_policy\_reset\\\#\$time\_limit\_unlimited\\-\$is\_self\_registered},
  4939/2328/{-\$component\_factory},
  5483/2327/{+FILTER\_DURATION\_RANGE\\+FILTER\_DATE\_RANGE\\+FILTER\_TEXT\\+FILTER\_DATETIME\_RANGE\\+FILTER\_SELECT\\+EXPORT\_CSV\\+ACTION\_ALL\_LIMIT\\+FILTER\_LANGUAGE\\+FILTER\_DATE\\+FILTER\_CHECKBOX\\...},
  5724/2327/{\#\$datatable\\\#\$display\_as\_block\\\#\$columns\_determined\\\#\$rows\_selector\_off\\\#\$show\_rows\_selector\\\#\$enable\_command\_for\\\_all\\\#\$limit\_determined\\\#\$nav\_determined\\\#\$ext\_seg\\\#\$restore\_filter\\...},
  5871/2327/{\$items\\-\$kept\_uploads\\\$buttons},
  274/2627/{\#\$title\\\#\$alert\\\#\$hidden\_title\\\#\$postvar\\\#\$type\\\#\$info},
  1714/2627/{\#\$rbac\_review}, 2283/2627/{\#\$ilias}, 2532/2627/{\#\$obj\_definition}, 2906/2627/{\#\$app\_event\_handler},
  3672/2627/{-\$structure},
  4214/2627/{\#\$disable\_standard\\\_message\\\#\$force\_top\_buttons\\\#\$show\_top\_buttons\\\#\$hide\_labels\\\#\$check\_input\_called\\\#\$required\_text},
  6698/2627/{\#\$sel\_params\\\#\$multi\_values},
  1302/2851/{\#\$lng}, 1623/2851/{\#\$rbac\_admin}, 2048/2851/{\#\$settings}, 2973/2851/{\#\$tree},
  4489/2851/{\#\$lng}, 4604/2851/{\$context}, 4728/2851/{\$server\_request}, 4856/2851/{\$token\_repository},
  5114/2851/{\$query\_parser}, 5233/2851/{\$path\_factory}, 5359/2851/{-\$get\_parameters\\-\$post\_parameters},
  5507/2851/{\$response\_sender}, 5656/2851/{\$refinery}, 5833/2851/{\$export\_object}, 6009/2851/{\#\$table\_request},
  6547/2851/{\#\$multi\_addremove\\\#\$multi\_sortable\\\#\$multi\\\#\$disabled\\\#\$required}, 6801/2851/{\#\$sub\_items},
  5958/3221/{\#\$parent\_obj}, 6893/3221/{\#\$options\\\#\$cust\_attr},
  920/3564/{\#\$hide\_sub}, 1148/3564/{\#\$lng}, 2891/3564/{\#\$user}, 3908/3564/{\#\$tpl},
  5597/3564/{\#\$main\_tpl}, 5708/3564/{\#\$ctrl}, 5771/3564/{\#\$refinery},
  1055/3970/{\#\$lng}, 3820/3970/{\#\$global\_tpl}, 4987/3970/{\#\$ctrl}, 5869/3970/{\#\$refinery},
  3440/4379/{\#\$global\_tpl}, 3711/4379/{\#\$user}, 5505/4379/{\#\$http}, 5735/4379/{\#\$ctrl},
  5608/4557/{\#\$http}, 6036/4557/{\#\$parent\_table}, 1268/4739/{\#\$request}, 4720/4739/{\#\$parentform},
  5771/4977/{\#\$parent\_gui}}
  \node[lbl] (lab-\x-\y) at (\x*0.01,-\y*0.01) {\t};
\end{tikzpicture}
\end{document}
